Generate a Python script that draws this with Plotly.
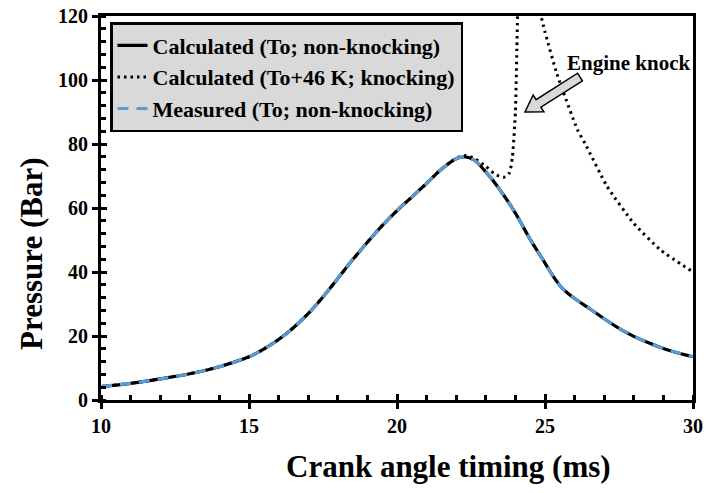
import numpy as np
import plotly.graph_objects as go

# ---------------- data ----------------
crank_calc = [10, 11, 12, 13, 14, 15, 15.5, 16, 16.5, 17, 17.5, 18, 18.5, 19, 19.5, 20, 20.5, 21, 21.5,
              22, 22.3, 22.6, 23, 23.5, 24, 24.5, 25, 25.25, 25.5, 25.75, 26, 26.5, 27, 27.5, 28, 28.5, 29, 29.5, 30]
p_calc = [4.2, 5.2, 6.6, 8.2, 10.4, 13.5, 15.9, 18.9, 22.6, 27.0, 32.2, 38.0, 43.8, 49.3, 54.5, 59.2, 63.4, 67.7, 72.1,
          75.4, 76.0, 75.0, 71.3, 65.4, 58.4, 50.2, 42.8, 39.0, 35.8, 33.5, 31.7, 28.6, 25.4, 22.4, 19.9, 17.9, 16.1, 14.7, 13.5]

crank_meas = [10, 11, 12, 13, 14, 15, 15.5, 16, 16.5, 17, 17.5, 18, 18.5, 19, 19.5, 20, 20.5, 21, 21.5,
              22, 22.3, 22.6, 23, 23.5, 24, 24.5, 25, 25.25, 25.5, 25.75, 26, 26.5, 27, 27.5, 28, 28.5, 29, 29.5, 30]
p_meas = [4.2, 5.2, 6.6, 8.2, 10.4, 13.5, 15.9, 18.9, 22.6, 27.0, 32.2, 38.0, 43.8, 49.3, 54.5, 59.2, 63.4, 67.7, 72.1,
          75.4, 76.0, 75.0, 71.3, 65.4, 58.4, 50.2, 42.8, 39.0, 35.8, 33.5, 31.7, 28.6, 25.4, 22.4, 19.9, 17.9, 16.1, 14.7, 13.5]

crank_knock = [10, 11, 12, 13, 14, 15, 15.5, 16, 16.5, 17, 17.5, 18, 18.5, 19, 19.5, 20, 20.5, 21, 21.5,
               22, 22.3, 22.6, 23, 23.3, 23.6, 23.8, 23.9, 24.0, 24.05, 24.1, 24.4, 24.8, 25.0, 25.4,
               26.1, 26.35, 27.1, 28.0, 28.9, 30]
p_knock = [4.2, 5.2, 6.6, 8.2, 10.4, 13.5, 15.9, 18.9, 22.6, 27.0, 32.2, 38.0, 43.8, 49.3, 54.5, 59.2, 63.4, 67.7, 72.1,
           75.6, 76.4, 75.6, 73.0, 70.6, 69.6, 71.0, 76.0, 90.0, 110.0, 130.0, 180.0, 123.0, 115.0, 102.0,
           84.4, 80.2, 66.7, 55.2, 46.9, 40.0]

x_ticks = [10, 15, 20, 25, 30]
y_ticks = [0, 20, 40, 60, 80, 100, 120]

names = ["Calculated (To; non-knocking)",
         "Calculated (To+46 K; knocking)",
         "Measured (To; non-knocking)"]
x_title = "Crank angle timing (ms)"
y_title = "Pressure (Bar)"

# ---------------- figure ----------------
FONT = "Liberation Serif"
W, H = 706, 493
ML, MR, MT, MB = 101, 13, 16, 93
PW, PH = W - ML - MR, H - MT - MB

def to_paper(px, py):
    return (px - ML) / PW, (H - MB - py) / PH

fig = go.Figure()
fig.add_trace(go.Scatter(x=crank_calc, y=p_calc, mode="lines", name=names[0],
                         line=dict(color="black", width=3.2, shape="spline", smoothing=1.0),
                         legendgroup="a"))
fig.add_trace(go.Scatter(x=crank_knock, y=p_knock, mode="lines", name=names[1],
                         line=dict(color="black", width=3, dash="2.5px,4px", shape="spline", smoothing=0.5),
                         legendgroup="b"))
fig.add_trace(go.Scatter(x=crank_meas, y=p_meas, mode="lines", name=names[2],
                         line=dict(color="#5B9BD5", width=3.2, dash="11px,8px", shape="spline", smoothing=1.0),
                         legendgroup="c"))

# invisible trace for the inner major-tick overlay axes
fig.add_trace(go.Scatter(x=[10, 30], y=[0, 120], mode="none", xaxis="x2", yaxis="y2",
                         showlegend=False, hoverinfo="skip"))

axis_common = dict(showgrid=False, zeroline=False, linecolor="black", linewidth=3,
                   ticks="outside", ticklen=6, tickwidth=3, tickcolor="black",
                   tickfont=dict(family=FONT, size=20, color="black", weight="bold"),
                   mirror=True, automargin=False)

fig.update_layout(
    width=W, height=H, autosize=False,
    margin=dict(l=ML, r=MR, t=MT, b=MB, pad=0),
    paper_bgcolor="white", plot_bgcolor="white",
    xaxis=dict(range=[10, 30], tickvals=x_ticks, **axis_common,
               minor=dict(dtick=1, ticks="inside", ticklen=5, tickwidth=3, tickcolor="black")),
    yaxis=dict(range=[0, 120], tickvals=y_ticks, **axis_common,
               minor=dict(dtick=4, ticks="inside", ticklen=5, tickwidth=3, tickcolor="black")),
    xaxis2=dict(overlaying="x", range=[10, 30], tickvals=x_ticks, ticks="inside", ticklen=6,
                tickwidth=3, tickcolor="black", showticklabels=False, showline=False,
                showgrid=False, zeroline=False, automargin=False),
    yaxis2=dict(overlaying="y", range=[0, 120], tickvals=y_ticks, ticks="inside", ticklen=6,
                tickwidth=3, tickcolor="black", showticklabels=False, showline=False,
                showgrid=False, zeroline=False, automargin=False),
    legend=dict(x=(110 - ML) / PW, y=(H - MB - 22) / PH, xanchor="left", yanchor="top",
                bgcolor="#D9D9D9", bordercolor="black", borderwidth=2.5,
                font=dict(family=FONT, size=22, color="black", weight="bold"),
                traceorder="normal", tracegroupgap=14, itemwidth=30),
    showlegend=True,
)

# axis titles (placed as in the reference, off-centre)
tx, ty = to_paper(448, 466)
fig.add_annotation(x=tx, y=ty, xref="paper", yref="paper", text=x_title, showarrow=False,
                   xanchor="center", yanchor="middle",
                   font=dict(family=FONT, size=31, color="black", weight="bold"))
tx, ty = to_paper(31, 254)
fig.add_annotation(x=tx, y=ty, xref="paper", yref="paper", text=y_title, showarrow=False,
                   textangle=-90, xanchor="center", yanchor="middle",
                   font=dict(family=FONT, size=31, color="black", weight="bold"))

# ---- block arrow for "Engine knock" (pixel geometry -> paper coords) ----
tail = np.array([580.0, 77.0])
tip = np.array([525.0, 112.0])
u = (tip - tail) / np.linalg.norm(tip - tail)
n = np.array([u[1], -u[0]])
head_len, shaft_hw, head_hw = 16.0, 4.5, 10.0
hb = tip - u * head_len
pts = [tail + n * shaft_hw, hb + n * shaft_hw, hb + n * head_hw, tip,
       hb - n * head_hw, hb - n * shaft_hw, tail - n * shaft_hw]
path = ""
for i, (px, py) in enumerate(pts):
    fx, fy = to_paper(px, py)
    path += ("M" if i == 0 else "L") + f"{fx:.5f},{fy:.5f} "
path += "Z"
fig.add_shape(type="path", path=path, xref="paper", yref="paper",
              fillcolor="#D9D9D9", line=dict(color="black", width=1.5))

ax, ay = to_paper(628, 63)
fig.add_annotation(x=ax, y=ay, xref="paper", yref="paper", text="Engine knock",
                   showarrow=False, xanchor="center", yanchor="middle",
                   font=dict(family=FONT, size=21, color="black", weight="bold"))

fig.write_html("out.html")
